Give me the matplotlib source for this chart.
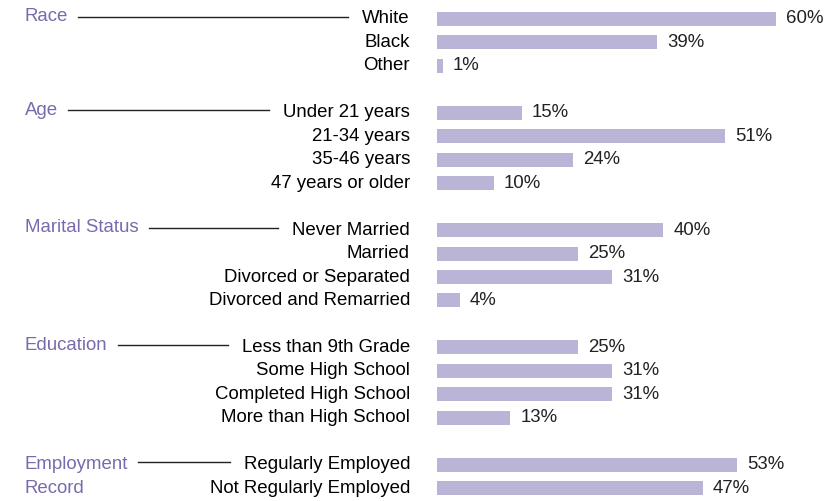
import matplotlib.pyplot as plt
from matplotlib.transforms import blended_transform_factory

plt.rcParams['font.family'] = ['Liberation Sans', 'DejaVu Sans']

# groups of the chart, in order from top to bottom
groups = ["Race", "Age", "Marital Status", "Education", "Employment\nRecord"]
labels = [
    ["White", "Black", "Other"],
    ["Under 21 years", "21-34 years", "35-46 years", "47 years or older"],
    ["Never Married", "Married", "Divorced or Separated", "Divorced and Remarried"],
    ["Less than 9th Grade", "Some High School", "Completed High School", "More than High School"],
    ["Regularly Employed", "Not Regularly Employed"],
]
values = [
    [60, 39, 1],
    [15, 51, 24, 10],
    [40, 25, 31, 4],
    [25, 31, 31, 13],
    [53, 47],
]

bar_color = "#bab5d6"
group_color = "#7a6aad"
fs = 13.4

fig = plt.figure(figsize=(8.27, 5.01), dpi=100)
ax = fig.add_axes([437 / 827, 0, 1 - 437 / 827, 1])
ax.set_xlim(0, 69.0)
ax.set_ylim(20.55, -0.81)
ax.axis("off")

tr = blended_transform_factory(fig.transFigure, ax.transData)

row = 0
group_rows = []
item_texts = []
for g, labs, vals in zip(groups, labels, values):
    group_rows.append(row)
    first = None
    for lab, v in zip(labs, vals):
        ax.barh(row, v, height=0.6, color=bar_color, edgecolor="none")
        ax.annotate(f"{v}%", (v, row), xytext=(7.3, 0), textcoords="offset points",
                    va="center", ha="left", fontsize=fs, color="#222222")
        t = fig.text(410 / 827, row, lab, transform=tr, ha="right", va="center",
                     fontsize=fs, color="black")
        if first is None:
            first = t
        row += 1
    item_texts.append(first)
    row += 1

group_texts = []
for g, r in zip(groups, group_rows):
    if "\n" in g:
        top, bottom = g.split("\n")
        t = fig.text(25 / 827, r, top, transform=tr, ha="left", va="center",
                     fontsize=fs, color=group_color)
        fig.text(25 / 827, r + 1, bottom, transform=tr, ha="left", va="center",
                 fontsize=fs, color=group_color)
    else:
        t = fig.text(25 / 827, r - 0.1, g, transform=tr, ha="left", va="center",
                     fontsize=fs, color=group_color)
    group_texts.append(t)

# connector lines between group name and first item label
fig.canvas.draw()
renderer = fig.canvas.get_renderer()
for gt, it, r in zip(group_texts, item_texts, group_rows):
    x0 = gt.get_window_extent(renderer).x1 + 10
    x1 = it.get_window_extent(renderer).x0 - 14
    fig.add_artist(plt.Line2D([x0 / 827, x1 / 827], [r - 0.1, r - 0.1], transform=tr,
                              color="#222222", lw=1))

fig.savefig("out.png", dpi=100)
